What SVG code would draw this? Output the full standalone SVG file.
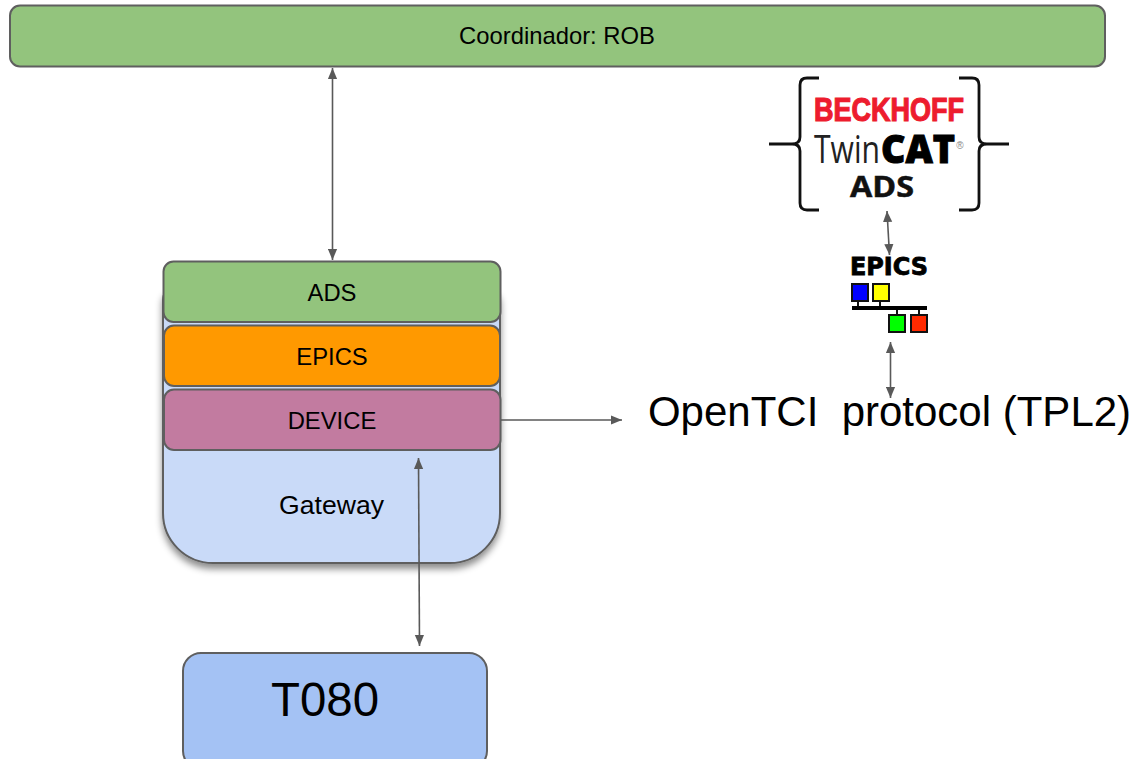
<svg xmlns="http://www.w3.org/2000/svg" width="1134" height="759" viewBox="0 0 1134 759">
<style>
text{font-family:"Liberation Sans",Arial,sans-serif;fill:#000;text-anchor:middle;white-space:pre}
.box{stroke:#5f5f5f;stroke-width:2}
.t24{font-size:23.8px}
.conn{fill:none;stroke:#595959;stroke-width:1.6}
.logo{font-family:"Open Sans",sans-serif}
.sq{stroke:#111;stroke-width:2}
</style>
<defs>
<marker id="ah" markerUnits="userSpaceOnUse" markerWidth="12" markerHeight="10" refX="11" refY="5" orient="auto-start-reverse"><path d="M0 0.4L11 5L0 9.6Z" fill="#595959"/></marker>
<filter id="sh" x="-10%" y="-10%" width="120%" height="120%"><feDropShadow dx="0" dy="5" stdDeviation="3.500" flood-color="#000" flood-opacity="0.45"/></filter>
</defs>
<rect width="1134" height="759" fill="#fff"/>
<g id="gateway">
<path class="box" filter="url(#sh)" d="M163 300Q163 290 173 290H490Q500 290 500 300V513A50 50 0 0 1 450 563H213A50 50 0 0 1 163 513Z" fill="#c9daf8"/>
<text x="331.500" y="514" font-size="26.600px">Gateway</text>
</g>
<g id="coordinador">
<rect class="box" x="10" y="5.500" width="1095" height="61" rx="10" fill="#93c47d"/>
<text class="t24" x="557" y="44">Coordinador: ROB</text>
</g>
<g id="ads">
<rect class="box" x="163.500" y="261.500" width="337" height="60.500" rx="10" fill="#93c47d"/>
<text class="t24" x="332" y="301">ADS</text>
</g>
<g id="epics">
<rect class="box" x="164" y="325.500" width="336" height="60.500" rx="10" fill="#ff9900"/>
<text class="t24" x="332" y="365">EPICS</text>
</g>
<g id="device">
<rect class="box" x="164" y="389.500" width="336.500" height="60.500" rx="10" fill="#c27ba0"/>
<text class="t24" x="332" y="429">DEVICE</text>
</g>
<g id="t080">
<rect class="box" x="183" y="653" width="304" height="116" rx="18" fill="#a4c2f4"/>
<text x="325" y="716" font-size="47.400px">T080</text>
</g>
<g id="opentci">
<text x="889.500" y="426" font-size="42px">OpenTCI  protocol (TPL2)</text>
</g>
<g id="twincat-logo">
<path d="M819 78H807Q800 78 800 85V137Q800 144 792 144H769M819 210H807Q800 210 800 203V151Q800 144 792 144M959 78H972Q979 78 979 85V137Q979 144 987 144H1009M959 210H972Q979 210 979 203V151Q979 144 987 144" fill="none" stroke="#111" stroke-width="2.800"/>
<text x="889" y="121" font-size="33px" font-weight="700" textLength="150" lengthAdjust="spacingAndGlyphs" style="fill:#ed1c2e;stroke:#ed1c2e;stroke-width:1.200">BECKHOFF</text>
<text x="847" y="163" font-size="38px" textLength="66" lengthAdjust="spacingAndGlyphs" style="font-family:'Open Sans',sans-serif;fill:#222">Twin</text>
<text x="918" y="163" font-size="38px" font-weight="800" textLength="74" lengthAdjust="spacingAndGlyphs" style="font-family:'Open Sans',sans-serif;stroke:#000;stroke-width:1">CAT</text>
<text x="960" y="149" font-size="10px" style="fill:#888">®</text>
<text class="logo" x="882" y="197" font-size="28px" font-weight="700" textLength="64" lengthAdjust="spacingAndGlyphs" style="fill:#111;stroke:#111;stroke-width:.5">ADS</text>
</g>
<g id="epics-logo">
<text x="889" y="275" font-size="24px" font-weight="700" textLength="78" lengthAdjust="spacingAndGlyphs" style="font-family:'DejaVu Sans',sans-serif;stroke:#000;stroke-width:.8">EPICS</text>
<path d="M858 301V307M880 301V307M897 309V314M919 309V314" stroke="#111" stroke-width="2" fill="none"/>
<rect x="852" y="306" width="75" height="4" fill="#000"/>
<rect class="sq" x="852" y="284" width="16" height="17" fill="#0000ff"/>
<rect class="sq" x="873" y="284" width="16" height="17" fill="#ffff00"/>
<rect class="sq" x="889" y="315" width="16" height="17" fill="#00ff00"/>
<rect class="sq" x="911" y="315" width="16" height="17" fill="#ff2a00"/>
</g>
<g id="connectors">
<path class="conn" d="M332.500 68V260" marker-start="url(#ah)" marker-end="url(#ah)"/>
<path class="conn" d="M501 420L622 420" marker-end="url(#ah)"/>
<path class="conn" d="M418.500 458L419.500 646" marker-start="url(#ah)" marker-end="url(#ah)"/>
<path class="conn" d="M887 211L889.500 255" marker-start="url(#ah)" marker-end="url(#ah)"/>
<path class="conn" d="M890.500 342V398" marker-start="url(#ah)" marker-end="url(#ah)"/>
</g>
</svg>
